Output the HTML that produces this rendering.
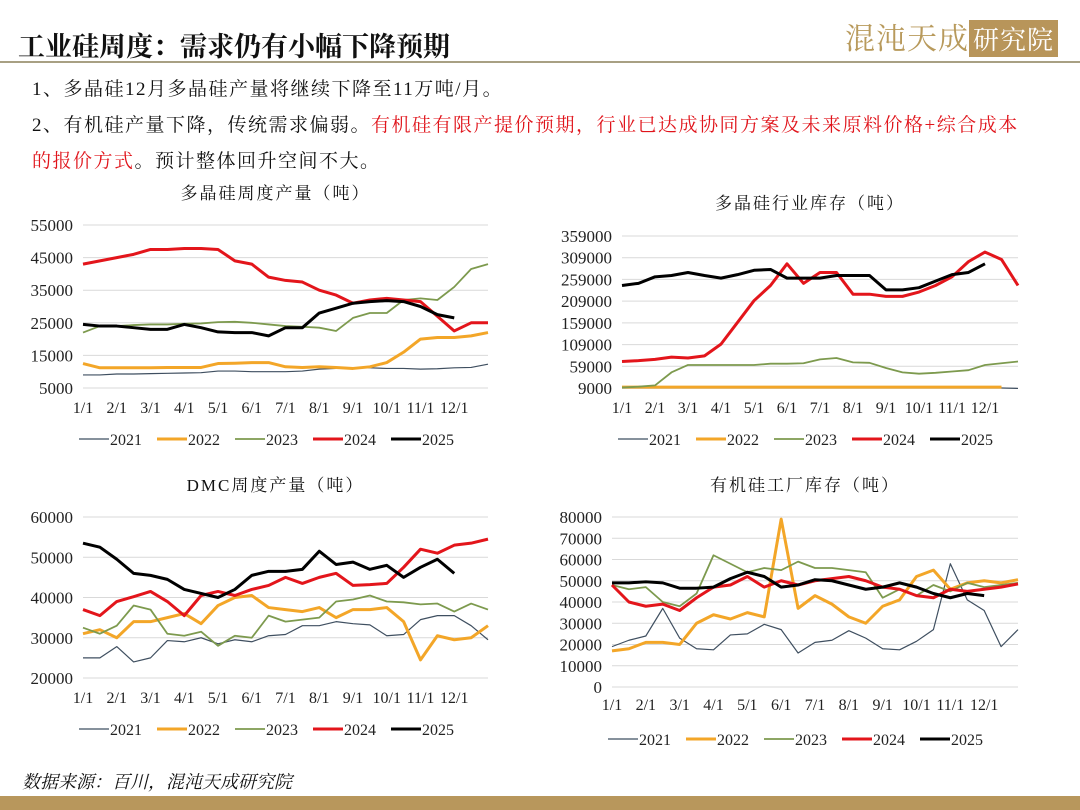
<!DOCTYPE html>
<html><head><meta charset="utf-8"><style>
body{margin:0;width:1080px;height:810px;background:#fff;position:relative;overflow:hidden;font-family:"Liberation Serif","Noto Serif CJK SC",serif;}
.t{position:absolute;white-space:nowrap;color:#111;}
.b{font-size:19px;letter-spacing:1.5px;font-family:"Liberation Serif","Noto Serif CJK SC",serif;}
</style></head><body>
<div class="t" style="left:18px;top:25px;font-size:27px;font-weight:bold;font-family:'Liberation Serif','Noto Serif CJK SC',serif;">工业硅周度：需求仍有小幅下降预期</div>
<div style="position:absolute;left:845px;top:14px;font-size:30px;color:#b89a5c;font-family:'Noto Serif CJK SC',serif;letter-spacing:1px;">混沌天成<span style="background:#b8955a;color:#fff;padding:0 4px;font-size:26px;">研究院</span></div>
<div style="position:absolute;left:0;top:61px;width:1080px;height:2px;background:#a8a083;"></div>
<div class="t b" style="left:32px;top:74px;">1、多晶硅12月多晶硅产量将继续下降至11万吨/月。</div>
<div class="t b" style="left:32px;top:110px;">2、有机硅产量下降，传统需求偏弱。<span style="color:#e0141b">有机硅有限产提价预期，行业已达成协同方案及未来原料价格+综合成本</span></div>
<div class="t b" style="left:32px;top:146px;"><span style="color:#e0141b">的报价方式</span>。预计整体回升空间不大。</div>
<svg id="svg" width="1080" height="810" style="position:absolute;left:0;top:0"></svg>
<div class="t" style="left:22px;top:768px;font-size:18px;font-style:italic;">数据来源：百川，混沌天成研究院</div>
<div style="position:absolute;left:0;top:796px;width:1080px;height:14px;background:#b8975c;"></div>
<script>
const months=["1/1","2/1","3/1","4/1","5/1","6/1","7/1","8/1","9/1","10/1","11/1","12/1"];
const years=["2021","2022","2023","2024","2025"];
const c1_2021=[9,9,9.3,9.3,9.4,9.5,9.6,9.7,10.2,10.2,10,10,10,10.2,10.8,11,11.2,11.2,11,11,10.8,10.9,11.2,11.3,12.3];
const c1_2022=[12.5,11.2,11.2,11.2,11.2,11.3,11.3,11.3,12.5,12.6,12.8,12.8,11.5,11.3,11.5,11.3,11,11.5,12.8,16,20,20.5,20.5,21,22];
const c1_2023=[22,24,24,24.3,24.5,24.5,24.7,24.8,25.2,25.3,25,24.5,24,23.8,23.5,22.5,26.5,28,28,32,32.5,32,36,41.5,43];
const c1_2024=[43,44,45,46,47.5,47.5,47.8,47.8,47.5,44,43,39,38,37.5,35,33.5,31,32,32.5,32,31.5,27,22.5,25,25];
const c1_2025=[24.5,24,24,23.5,23,23,24.5,23.5,22.2,22,22,21,23.5,23.5,28,29.5,31,31.5,31.8,31.5,30,27.5,26.5];
const c1_ticks=[5000,15000,25000,35000,45000,55000];
const c2_2021=[9,9,9,9,9,9,9,9,9,9,9,9,9,9,9,9,9,9,9,9,9,9,9,9,8];
const c2_2022=[11,11,11,11,11,11,11,11,11,11,11,11,11,11,11,11,11,11,11,11,11,11,11,11];
const c2_2023=[10,12,15,45,62,62,62,62,62,65,65,66,75,78,68,67,55,45,42,44,47,50,62,66,70];
const c2_2024=[70,72,75,80,78,83,110,160,210,245,295,250,275,275,225,225,220,220,230,245,265,300,322,305,245];
const c2_2025=[245,250,265,268,275,268,262,270,280,282,262,262,262,268,268,268,235,235,240,255,270,275,295];
const c2_ticks=[9000,59000,109000,159000,209000,259000,309000,359000];
const c3_2021=[25,25,27.8,24,25,29.3,29,30,28.5,29.5,29,30.5,30.8,33,33,34,33.5,33.2,30.5,30.8,34.5,35.5,35.5,33,29.5];
const c3_2022=[31,32,30,34,34,35,36,33.5,38,40,40.5,37.5,37,36.5,37.5,35,37,37,37.5,34,24.5,30.5,29.5,30,33];
const c3_2023=[32.5,31,33,38,37,31,30.5,31.5,28,30.5,30,35.5,34,34.5,35,39,39.5,40.5,39,38.8,38.3,38.5,36.5,38.5,37];
const c3_2024=[37,35.5,39,40.2,41.5,39,35.5,40.5,41.5,40.5,42,43,45,43.5,45,46,43,43.2,43.5,47.5,52,51,53,53.5,54.5];
const c3_2025=[53.5,52.5,49.5,46,45.5,44.5,42,41,40,42,45.5,46.5,46.5,47,51.5,48.2,48.8,47,48,45,47.5,49.5,46];
const c3_ticks=[20000,30000,40000,50000,60000];
const c4_2021=[19,22,24,37,23,18,17.5,24.5,25,29.5,27,16,21,22,26.5,23,18,17.5,21.5,27,58,41,36,19,27];
const c4_2022=[17,18,21,21,20,30,34,32,35,33,79,37,43,39,33,30,38,41,52,55,46,49,50,49,50.5];
const c4_2023=[48,46,47,40,38,44,62,58,54,56,55,59,56,56,55,54,42,46,43,48,45,49,47,48,49];
const c4_2024=[48,40,38,39,36,42,47,48,52,47,50,48,50,51,52,50,47,46,43,42,46,45,46,47,48.5];
const c4_2025=[49,49,49.5,49,46.5,46.5,47,51,54,52,47,48,50.5,50,48,46,47,49,47,44,42,44,43];
const c4_ticks=[0,10000,20000,30000,40000,50000,60000,70000,80000];

const colors={"2021":"#3f4f60","2022":"#f3a628","2023":"#7d9a4e","2024":"#e3151b","2025":"#000"};
const widths={"2021":1.2,"2022":3,"2023":1.8,"2024":3,"2025":3};
const svg=document.getElementById('svg');
const NS="http://www.w3.org/2000/svg";
function mk(tag,attrs){const e=document.createElementNS(NS,tag);for(const k in attrs)e.setAttribute(k,attrs[k]);svg.appendChild(e);return e;}
function chart(cfg){
  const {x0,x1,yTop,yBot,min,max,ticks,series,title,titleY,labelY,legendY,key}=cfg;
  const ys=v=>yBot-(v-min)/(max-min)*(yBot-yTop);
  const xs=i=>x0+(i/24)*(x1-x0);
  let t=mk('text',{x:(x0+x1)/2-10,y:titleY,'text-anchor':'middle','font-size':17,fill:'#111','font-family':'Liberation Serif,Noto Serif CJK SC,serif','letter-spacing':2});
  t.textContent=title;
  
  
  ticks.forEach(v=>{
    const g=mk('line',{x1:x0,x2:x1,y1:ys(v),y2:ys(v),stroke:'#d9d9d9','stroke-width':1});
    
    
    const l=mk('text',{x:x0-10,y:ys(v)+6,'text-anchor':'end','font-size':17,fill:'#222'});
    l.textContent=v;
    
    
  });
  months.forEach((m,i)=>{
    const l=mk('text',{x:xs(i*2),y:labelY,'text-anchor':'middle','font-size':16,fill:'#222'});
    l.textContent=m;
    
    
  });
  years.forEach((y,k)=>{
    const d=series[k];
    const p=mk('polyline',{points:d.map((v,i)=>xs(i)+','+ys(v*1000)).join(' '),fill:'none',stroke:colors[y],'stroke-width':widths[y],'stroke-linejoin':'round'});
    
    
    const lx=x0-4+k*78;
    const ll=mk('line',{x1:lx,x2:lx+30,y1:legendY,y2:legendY,stroke:colors[y],'stroke-width':widths[y]});
    
    
    const lt=mk('text',{x:lx+31,y:legendY+6,'font-size':16,fill:'#222'});
    lt.textContent=y;
    
    
  });
}
chart({key:'poly-output',x0:83,x1:488,yTop:225,yBot:388,min:5000,max:55000,ticks:c1_ticks,series:[c1_2021,c1_2022,c1_2023,c1_2024,c1_2025],title:'多晶硅周度产量（吨）',titleY:199,labelY:413,legendY:439});
chart({key:'poly-inventory',x0:622,x1:1018,yTop:236,yBot:388,min:9000,max:359000,ticks:c2_ticks,series:[c2_2021,c2_2022,c2_2023,c2_2024,c2_2025],title:'多晶硅行业库存（吨）',titleY:209,labelY:413,legendY:439});
chart({key:'dmc-output',x0:83,x1:488,yTop:517,yBot:678,min:20000,max:60000,ticks:c3_ticks,series:[c3_2021,c3_2022,c3_2023,c3_2024,c3_2025],title:'DMC周度产量（吨）',titleY:491,labelY:703,legendY:729});
chart({key:'silicone-inventory',x0:612,x1:1018,yTop:517,yBot:687,min:0,max:80000,ticks:c4_ticks,series:[c4_2021,c4_2022,c4_2023,c4_2024,c4_2025],title:'有机硅工厂库存（吨）',titleY:491,labelY:710,legendY:739});
</script>
</body></html>
